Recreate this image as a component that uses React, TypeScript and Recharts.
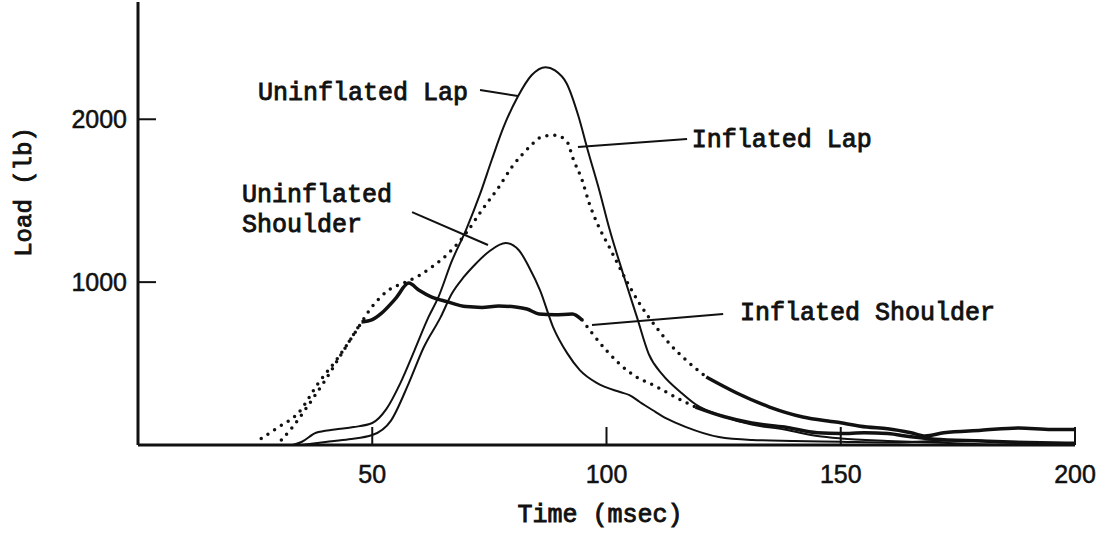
import { LineChart, Line, XAxis, YAxis, ReferenceLine, ReferenceDot } from "recharts";

type Pt = [number, number];

// [time (msec), load (lb)]
const uninflatedLap: Pt[] = [
  [33, 0], [35, 20], [38, 75], [42, 95], [46, 110], [50, 135], [53, 220], [56, 380],
  [59, 580], [62, 785], [64, 900], [67, 1130], [70, 1320], [73, 1540], [75.5, 1750],
  [78, 1950], [81, 2135], [84, 2270], [87, 2320], [89, 2300], [91.5, 2220], [94, 2020],
  [96, 1810], [98.5, 1560], [100.5, 1340], [103.5, 1055], [106.5, 785], [109, 560],
  [112, 430], [116, 320], [119, 250], [125, 175], [131, 125], [138, 95], [145, 55],
  [150, 40], [160, 25], [170, 15], [180, 5], [190, 0], [200, 0],
];

const uninflatedShoulder: Pt[] = [
  [35, 0], [40, 18], [45, 35], [50, 61], [54, 150], [57.8, 380], [61, 600], [64.6, 785],
  [67, 930], [69.5, 1030], [72, 1110], [75, 1190], [78.5, 1240],
  [81.3, 1196], [83.5, 1090], [85.8, 951], [88.6, 724], [91.6, 564], [94.3, 460],
  [98, 380], [102.9, 325], [105, 305], [107.1, 264], [109.8, 215], [113, 160], [117, 110],
  [124, 49], [131, 31], [140, 25], [150, 20], [160, 15], [170, 25], [177, 30], [185, 15],
  [195, 5], [200, 0],
];

const inflatedLap: Pt[] = [
  [26.3, 40], [30, 110], [34.2, 196], [38.5, 380], [42.8, 540], [46.4, 693], [49.9, 847],
  [53.5, 951], [57.1, 1000], [60, 1040], [62.7, 1092], [66.3, 1178], [70, 1300],
  [73.4, 1442], [77, 1583], [79.8, 1706], [83.5, 1828], [86, 1890], [88.8, 1902],
  [91.4, 1871], [93, 1748], [94.8, 1626], [96.3, 1485], [98, 1362], [100.6, 1215],
  [104.2, 1012], [107, 871], [110.6, 724], [113.5, 620], [117, 521], [121.3, 417],
  [127.8, 319], [134.8, 233], [141.9, 172], [149, 141], [155.6, 110], [160, 100],
  [165, 75], [168, 55], [172, 75], [180, 90], [188, 105], [195, 95], [200, 95],
];

const inflatedShoulder: Pt[] = [
  [30.6, 30], [33, 110], [36, 230], [40, 400], [44.3, 600], [47.7, 755], [50, 770],
  [52, 810], [55, 900], [57.8, 994], [60, 950], [62.7, 908], [66, 880], [70, 850],
  [73.4, 845], [77, 853], [80.6, 847], [83, 835], [85.6, 805], [89, 800], [92.7, 804],
  [94.8, 767], [96.9, 687], [99.9, 583], [102.7, 500], [106.4, 417], [110, 368],
  [115, 290], [119, 233], [125, 175], [131, 135], [138, 110], [145, 75], [150, 70],
  [155, 75], [160, 70], [165, 50], [170, 35], [180, 25], [190, 15], [200, 10],
];

const xTicks = [50, 100, 150, 200];
const yTicks = [1000, 2000];

// annotation anchors, in data units
const notes = [
  { text: "Uninflated Lap", t: 25.6, v: 2117 },
  { text: "Inflated Lap", t: 118.2, v: 1829 },
  { text: "Uninflated", t: 22.2, v: 1492 },
  { text: "Shoulder", t: 22.2, v: 1308 },
  { text: "Inflated Shoulder", t: 128.5, v: 767 },
];

const leaders = [
  [{ x: 73, y: 2180 }, { x: 81.1, y: 2143 }],
  [{ x: 93.9, y: 1829 }, { x: 117.2, y: 1879 }],
  [{ x: 58.5, y: 1430 }, { x: 74.7, y: 1228 }],
  [{ x: 96.9, y: 737 }, { x: 124.9, y: 804 }],
];

const INK = "#111";
const MONO = '"Liberation Mono", "Courier New", monospace';
const SANS = '"Liberation Sans", Arial, sans-serif';

// typewriter text: regular face, slightly thickened like the scan
const typed = {
  fontFamily: MONO,
  fontSize: 25,
  fill: INK,
  stroke: INK,
  strokeWidth: 0.9,
};

const thin = { strokeWidth: 2 };
const thick = { strokeWidth: 3.5 };
const dotted = { strokeWidth: 3.5, strokeDasharray: "0 8", strokeLinecap: "round" as const };

const slice = (pts: Pt[], from: number, to: number) =>
  pts.filter(([t]) => t >= from && t <= to).map(([t, v]) => ({ t, v }));

// the inflated traces switch between dotted and heavy solid along the way
const segments = [
  { key: "ul", data: slice(uninflatedLap, 0, 200), style: thin },
  { key: "us", data: slice(uninflatedShoulder, 0, 200), style: thin },
  { key: "il-1", data: slice(inflatedLap, 0, 121.3), style: dotted },
  { key: "il-2", data: slice(inflatedLap, 121.3, 200), style: thick },
  { key: "is-1", data: slice(inflatedShoulder, 0, 47.7), style: dotted },
  { key: "is-2", data: slice(inflatedShoulder, 47.7, 94.8), style: thick },
  { key: "is-3", data: slice(inflatedShoulder, 94.8, 119), style: dotted },
  { key: "is-4", data: slice(inflatedShoulder, 119, 200), style: thick },
];

const XTick = ({ x, y, payload }: any) => (
  <g>
    <line x1={x} x2={x} y1={y} y2={y - 18} stroke={INK} strokeWidth={2} />
    <text x={x} y={y + 38} textAnchor="middle" fontFamily={SANS} fontSize={25} fill={INK} stroke={INK} strokeWidth={0.5}>
      {payload.value}
    </text>
  </g>
);

const YTick = ({ x, y, payload }: any) => (
  <g>
    <line x1={x} x2={x + 18} y1={y} y2={y} stroke={INK} strokeWidth={2} />
    <text x={x - 11} y={y + 9} textAnchor="end" fontFamily={SANS} fontSize={25} fill={INK} stroke={INK} strokeWidth={0.5}>
      {payload.value}
    </text>
  </g>
);

export default function App() {
  return (
    <div style={{ position: "absolute", left: 0, top: 0, background: "#fff" }}>
      <LineChart width={1108} height={537} margin={{ top: 2, right: 33, bottom: 0, left: 0 }}>
        <XAxis
          type="number"
          dataKey="t"
          domain={[0, 200]}
          ticks={xTicks}
          interval={0}
          tickSize={0}
          tickMargin={0}
          tickLine={false}
          tick={XTick}
          height={92}
          axisLine={{ stroke: INK, strokeWidth: 3 }}
          allowDataOverflow
          label={{
            content: () => (
              <text x={600} y={522} textAnchor="middle" {...typed}>
                Time (msec)
              </text>
            ),
          }}
        />
        <YAxis
          type="number"
          domain={[0, 2720]}
          ticks={yTicks}
          interval={0}
          tickSize={0}
          tickMargin={0}
          tickLine={false}
          tick={YTick}
          width={138}
          axisLine={{ stroke: INK, strokeWidth: 3 }}
          allowDataOverflow
          label={{
            content: () => (
              <text x={31} y={192} transform="rotate(-90 31 192)" textAnchor="middle" {...typed} fontSize={24}>
                Load (lb)
              </text>
            ),
          }}
        />
        {segments.map((s) => (
          <Line
            key={s.key}
            data={s.data}
            dataKey="v"
            type="monotone"
            stroke={INK}
            dot={false}
            activeDot={false}
            isAnimationActive={false}
            {...s.style}
          />
        ))}
        {leaders.map((seg, i) => (
          <ReferenceLine key={`lead-${i}`} segment={seg} stroke={INK} strokeWidth={2} ifOverflow="visible" />
        ))}
        {notes.map((n) => (
          <ReferenceDot
            key={n.text}
            x={n.t}
            y={n.v}
            r={0}
            ifOverflow="visible"
            shape={(p: any) => (
              <text x={p.cx} y={p.cy} {...typed}>
                {n.text}
              </text>
            )}
          />
        ))}
      </LineChart>
    </div>
  );
}
